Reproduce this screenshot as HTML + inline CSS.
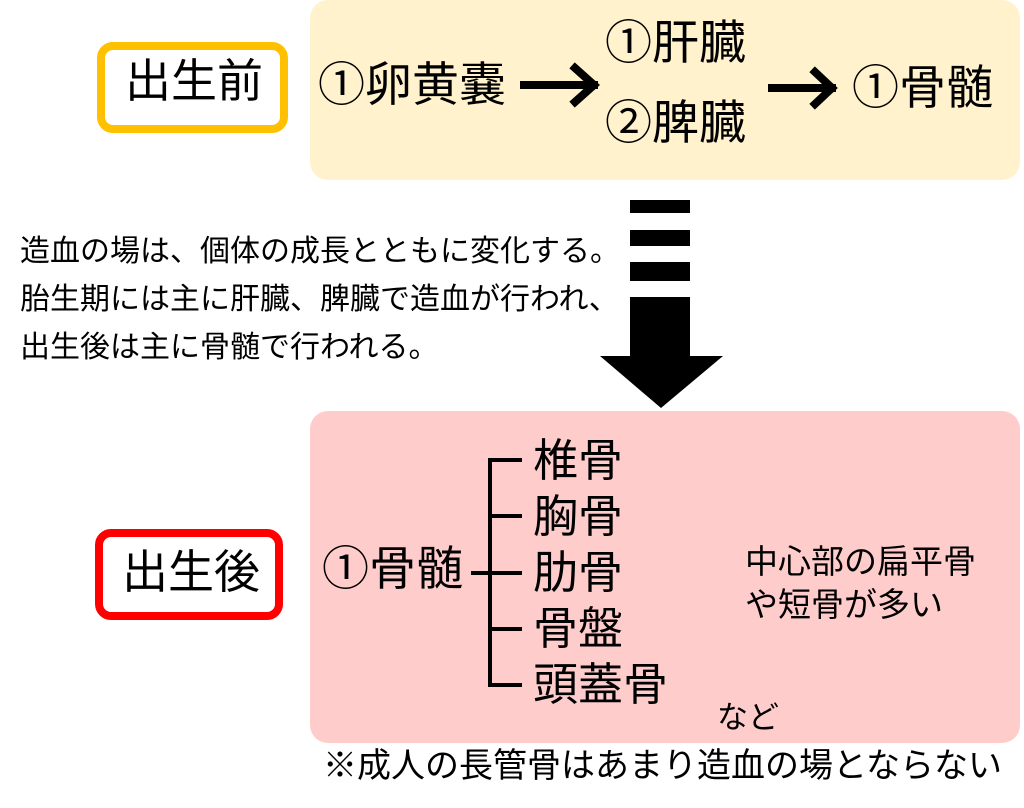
<!DOCTYPE html>
<html><head><meta charset="utf-8"><style>
body{margin:0;width:1024px;height:808px;background:#fff;position:relative;overflow:hidden;font-family:"Liberation Sans","Noto Sans CJK JP",sans-serif;color:#000}
.a{position:absolute;white-space:nowrap;line-height:1}
.box{position:absolute}
</style></head><body>
<div class="box" style="left:310px;top:0;width:710px;height:180px;background:#FFF2CC;border-radius:18px"></div>
<div class="box" style="left:310px;top:411px;width:710px;height:332px;background:#FFCCCC;border-radius:18px"></div>
<div class="box" style="left:97px;top:42px;width:175px;height:75px;border:8px solid #FFC000;border-radius:16px;background:#fff"></div>
<div class="box" style="left:95px;top:529px;width:172px;height:75px;border:8px solid #FF0000;border-radius:16px;background:#fff"></div>

<div class="a" style="left:125px;top:58px;font-size:46px">出生前</div>
<div class="a" style="left:122px;top:549px;font-size:46px">出生後</div>

<div class="a" style="left:318px;top:61px;font-size:47px">①卵黄嚢</div>
<div class="a" style="left:605px;top:19px;font-size:47px">①肝臓</div>
<div class="a" style="left:605px;top:99px;font-size:47px">②脾臓</div>
<div class="a" style="left:852px;top:64px;font-size:47px">①骨髄</div>

<svg class="box" style="left:0;top:0" width="1024" height="808">
<g stroke="#000" stroke-width="8" fill="none" stroke-linecap="square">
<line x1="524" y1="85" x2="594" y2="85"/><polyline points="575,68 594,85 575,102"/>
<line x1="772" y1="88" x2="832" y2="88"/><polyline points="815,72 832,88 815,104"/>
</g>
<rect x="630" y="200" width="60" height="13"/>
<rect x="630" y="230" width="60" height="16"/>
<rect x="630" y="262" width="60" height="19"/>
<rect x="630" y="297" width="60" height="60"/>
<polygon points="600,356 723,356 661,408"/>
<g stroke="#000" stroke-width="4" fill="none">
<line x1="490" y1="460" x2="490" y2="686"/>
<line x1="488" y1="460" x2="522" y2="460"/>
<line x1="488" y1="516" x2="522" y2="516"/>
<line x1="471" y1="573" x2="522" y2="573"/>
<line x1="488" y1="629" x2="522" y2="629"/>
<line x1="488" y1="685" x2="522" y2="685"/>
</g>
</svg>

<div class="a" style="left:20px;top:228px;font-size:30px;line-height:48px">造血の場は、個体の成長とともに変化する。<br>胎生期には主に肝臓、脾臓で造血が行われ、<br>出生後は主に骨髄で行われる。</div>

<div class="a" style="left:322px;top:545px;font-size:47px">①骨髄</div>
<div class="a" style="left:533px;top:433px;font-size:45px;line-height:56px">椎骨<br>胸骨<br>肋骨<br>骨盤<br>頭蓋骨</div>
<div class="a" style="left:745px;top:540px;font-size:33px;line-height:43px">中心部の扁平骨<br>や短骨が多い</div>
<div class="a" style="left:717px;top:702px;font-size:31px">など</div>
<div class="a" style="left:323px;top:749px;font-size:34px">※成人の長管骨はあまり造血の場とならない</div>
</body></html>
